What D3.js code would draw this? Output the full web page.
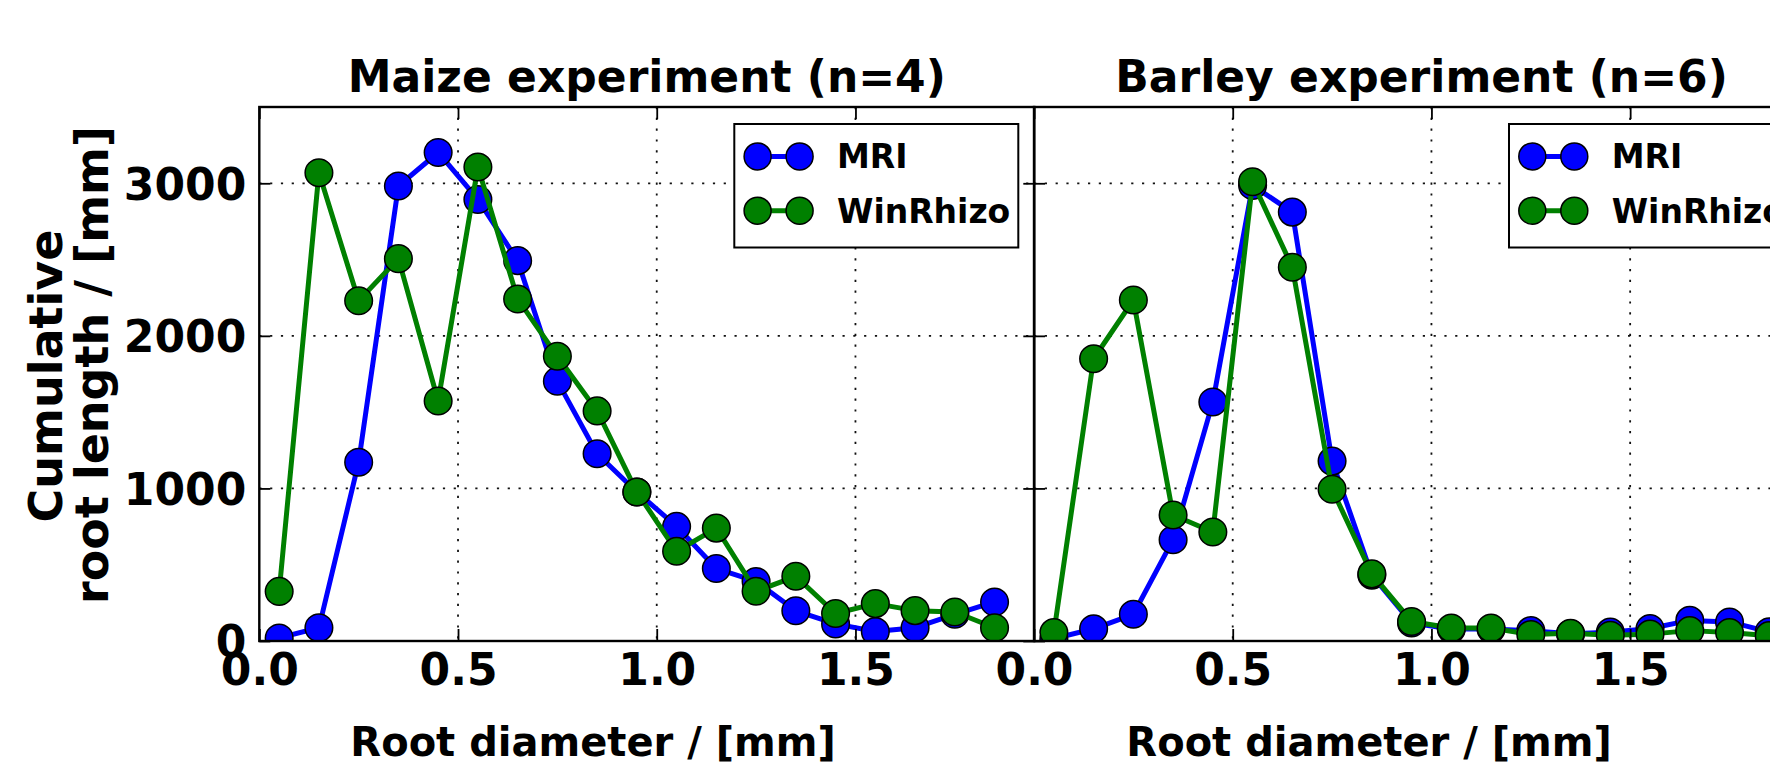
<!DOCTYPE html>
<html>
<head>
<meta charset="utf-8">
<script src="https://cdn.jsdelivr.net/npm/d3@7"></script>
<style>
  html, body { margin: 0; padding: 0; background: #fff; }
  svg { display: block; }
  text { font-family: "DejaVu Sans", sans-serif; font-weight: bold; fill: #000; }
</style>
</head>
<body>
<svg id="chart" width="1770" height="764"></svg>
<script>
// ---------------- DATA ----------------
const diameters = [0.05, 0.15, 0.25, 0.35, 0.45, 0.55, 0.65, 0.75, 0.85, 0.95,
                   1.05, 1.15, 1.25, 1.35, 1.45, 1.55, 1.65, 1.75, 1.85];
const maizeMRI      = [20, 87, 1172, 2982, 3202, 2894, 2493, 1703, 1227, 977,
                       751, 475, 390, 198, 112, 62, 87, 175, 256];
const maizeWinRhizo = [325, 3069, 2230, 2506, 1573, 3107, 2242, 1866, 1508, 977,
                       588, 740, 326, 424, 180, 245, 199, 190, 87];
const barleyMRI      = [15, 80, 175, 664, 1566, 2986, 2811, 1179, 432, 118,
                        78, 78, 68, 48, 58, 82, 135, 125, 60];
const barleyWinRhizo = [55, 1850, 2235, 826, 714, 3010, 2450, 995, 440, 128,
                        85, 85, 42, 50, 38, 45, 68, 55, 35];
const xTicks = [0.0, 0.5, 1.0, 1.5];
const yTicks = [0, 1000, 2000, 3000];
const seriesNames = ["MRI", "WinRhizo"];
const seriesColors = ["#0000ff", "#008000"];
const panelTitles = ["Maize experiment (n=4)", "Barley experiment (n=6)"];
const xLabelText = "Root diameter / [mm]";
const yLabelLines = ["Cumulative", "root length / [mm]"];

// ---------------- LAYOUT ----------------
const svg = d3.select("#chart");
const plotTop = 107, plotBottom = 641;
const panelW = 775;
const panels = [
  { left: 259.3, title: panelTitles[0], data: [maizeMRI, maizeWinRhizo], ylabels: true, xlabelX: 593 },
  { left: 1034,  title: panelTitles[1], data: [barleyMRI, barleyWinRhizo], ylabels: false, xlabelX: 1369 }
];
const y = d3.scaleLinear().domain([0, 3500]).range([plotBottom, plotTop]);
const defs = svg.append("defs");

panels.forEach((p, pi) => {
  const x = d3.scaleLinear().domain([0, 1.95]).range([p.left, p.left + panelW]);
  const g = svg.append("g");
  const clipId = "clip" + pi;
  defs.append("clipPath").attr("id", clipId)
    .append("rect").attr("x", p.left).attr("y", plotTop).attr("width", panelW).attr("height", plotBottom - plotTop);

  // grid
  const grid = g.append("g").attr("stroke", "#111").attr("stroke-width", 1.8)
    .attr("stroke-dasharray", "2.2,8.6").attr("fill", "none");
  xTicks.filter(t => t > 0).forEach(t => {
    grid.append("line").attr("x1", x(t)).attr("x2", x(t)).attr("y1", plotTop).attr("y2", plotBottom);
  });
  yTicks.filter(t => t > 0).forEach(t => {
    grid.append("line").attr("x1", p.left).attr("x2", p.left + panelW).attr("y1", y(t)).attr("y2", y(t));
  });

  // series
  const plot = g.append("g").attr("clip-path", `url(#${clipId})`);
  const line = d3.line().x((d, i) => x(diameters[i])).y(d => y(d));
  p.data.forEach((vals, si) => {
    plot.append("path").datum(vals).attr("d", line)
      .attr("fill", "none").attr("stroke", seriesColors[si]).attr("stroke-width", 5)
      .attr("stroke-linejoin", "round");
    plot.selectAll(null).data(vals).enter().append("circle")
      .attr("cx", (d, i) => x(diameters[i])).attr("cy", d => y(d)).attr("r", 13.8)
      .attr("fill", seriesColors[si]).attr("stroke", "#000").attr("stroke-width", 1.5);
  });

  // axes (inward ticks)
  const axB = d3.axisBottom(x).tickValues(xTicks).tickSizeInner(-12).tickSizeOuter(0)
    .tickPadding(13).tickFormat(d3.format(".1f"));
  const gB = g.append("g").attr("transform", `translate(0,${plotBottom})`).call(axB);
  const axT = d3.axisTop(x).tickValues(xTicks).tickSizeInner(-12).tickSizeOuter(0).tickFormat("");
  const gT = g.append("g").attr("transform", `translate(0,${plotTop})`).call(axT);
  const axL = d3.axisLeft(y).tickValues(yTicks).tickSizeInner(-11).tickSizeOuter(0)
    .tickPadding(13).tickFormat(p.ylabels ? d3.format("d") : "");
  const gL = g.append("g").attr("transform", `translate(${p.left},0)`).call(axL);
  const axR = d3.axisRight(y).tickValues(yTicks).tickSizeInner(-11).tickSizeOuter(0).tickFormat("");
  const gR = g.append("g").attr("transform", `translate(${p.left + panelW},0)`).call(axR);
  [gB, gT, gL, gR].forEach(a => {
    a.select(".domain").remove();
    a.selectAll(".tick line").attr("stroke", "#000").attr("stroke-width", 1.8);
    a.selectAll("text").style("font-family", "'DejaVu Sans', sans-serif")
      .style("font-weight", "bold").style("font-size", "44px").attr("fill", "#000");
  });
  gL.selectAll(".tick text").attr("dy", "0.36em");

  // frame
  g.append("rect").attr("x", p.left).attr("y", plotTop).attr("width", panelW).attr("height", plotBottom - plotTop)
    .attr("fill", "none").attr("stroke", "#000").attr("stroke-width", 2.4);

  // title
  g.append("text").attr("x", p.left + panelW / 2).attr("y", 92).attr("text-anchor", "middle")
    .style("font-size", "44px").text(p.title);

  // x label
  g.append("text").attr("x", p.xlabelX).attr("y", 756).attr("text-anchor", "middle")
    .style("font-size", "40px").text(xLabelText);

  // legend
  const lx = p.left + panelW - 300, ly = 124;
  const lg = g.append("g").attr("transform", `translate(${lx},${ly})`);
  lg.append("rect").attr("x", 0).attr("y", 0).attr("width", 284).attr("height", 123.5)
    .attr("fill", "#fff").attr("stroke", "#000").attr("stroke-width", 2);
  seriesNames.forEach((name, si) => {
    const ry = 32.4 + si * 54.3;
    lg.append("line").attr("x1", 23.3).attr("x2", 65.3).attr("y1", ry).attr("y2", ry)
      .attr("stroke", seriesColors[si]).attr("stroke-width", 5);
    [23.3, 65.3].forEach(cx => {
      lg.append("circle").attr("cx", cx).attr("cy", ry).attr("r", 13.5)
        .attr("fill", seriesColors[si]).attr("stroke", "#000").attr("stroke-width", 1.5);
    });
    lg.append("text").attr("x", 102.7).attr("y", ry + 12).style("font-size", "33px").text(name);
  });
});

// y label (two lines, rotated)
svg.append("text").attr("transform", "translate(62,376) rotate(-90)").attr("text-anchor", "middle")
  .style("font-size", "46px").text(yLabelLines[0]);
svg.append("text").attr("transform", "translate(108,365) rotate(-90)").attr("text-anchor", "middle")
  .style("font-size", "46px").text(yLabelLines[1]);
</script>
</body>
</html>
